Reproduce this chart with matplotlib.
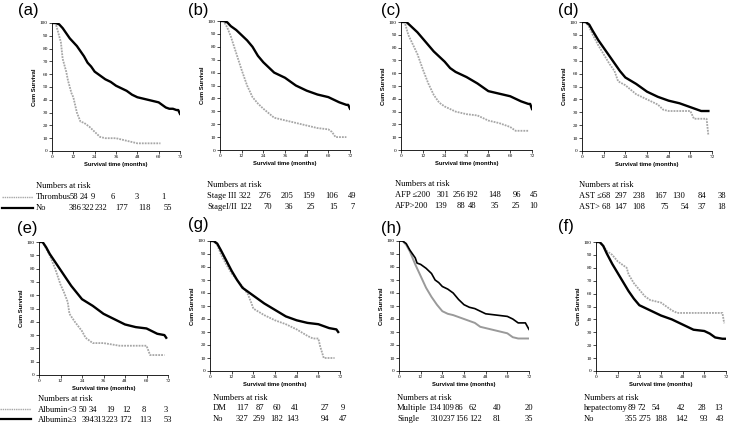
import matplotlib
matplotlib.use("Agg")
import matplotlib.pyplot as plt
from matplotlib.lines import Line2D

# ---------------- data ----------------
# (a) Portal vein thrombus
a_thr_t = [0, 2, 3, 5, 6, 8, 9, 11, 12, 14, 16, 18, 21, 24, 27, 30, 36, 42, 48, 54, 61]
a_thr_s = [100, 100, 95, 85, 72, 62, 55, 45, 42, 30, 23, 22, 19, 15, 11, 10, 10, 8, 6, 6, 6]
a_no_t = [0, 2, 4, 6, 8, 10, 12, 14, 16, 18, 20, 22, 24, 26, 28, 30, 33, 36, 39, 42, 45, 48, 51, 54, 57, 60, 62, 64, 66, 68, 70, 71, 72]
a_no_s = [100, 100, 99, 96, 92, 88, 85, 82, 78, 74, 69, 66, 62, 60, 58, 56, 54, 51, 49, 47, 44, 42, 41, 40, 39, 38, 36, 34, 33, 33, 32, 32, 29]

# (b) Stage
b_grey_t = [0, 2, 4, 6, 9, 12, 15, 18, 21, 24, 30, 36, 42, 48, 54, 60, 62, 64, 70]
b_grey_s = [100, 100, 95, 88, 75, 62, 50, 41, 36, 32, 25, 23, 21, 19, 17, 16, 14, 10, 10]
b_blk_t = [0, 2, 4, 6, 9, 12, 15, 18, 21, 24, 27, 30, 36, 42, 48, 54, 60, 63, 66, 70, 71, 72]
b_blk_s = [100, 100, 99, 96, 93, 89, 85, 80, 73, 68, 64, 60, 56, 50, 46, 43, 41, 39, 37, 35, 35, 32]

# (c) AFP
c_grey_t = [0, 2, 4, 6, 9, 12, 15, 18, 21, 24, 30, 36, 42, 48, 54, 60, 63, 70]
c_grey_s = [100, 100, 90, 84, 75, 63, 52, 43, 37, 34, 30, 28, 27, 23, 21, 18, 15, 15]
c_blk_t = [0, 3, 6, 9, 12, 15, 18, 21, 24, 27, 30, 36, 42, 48, 54, 60, 66, 70, 71, 72]
c_blk_s = [100, 100, 96, 92, 87, 82, 77, 73, 69, 64, 61, 57, 52, 46, 44, 42, 38, 36, 36, 32]

# (d) AST
d_grey_t = [0, 2, 4, 6, 9, 12, 15, 18, 20, 24, 30, 36, 42, 45, 48, 60, 62, 69, 70]
d_grey_s = [100, 100, 96, 90, 82, 75, 68, 62, 54, 51, 44, 40, 36, 32, 31, 31, 25, 25, 12]
d_blk_t = [0, 2, 4, 6, 9, 12, 15, 18, 21, 24, 30, 36, 42, 48, 54, 60, 66, 70]
d_blk_s = [100, 100, 98, 93, 86, 80, 74, 68, 62, 57, 52, 46, 42, 39, 37, 34, 31, 31]

# (e) Albumin
e_grey_t = [0, 2, 4, 6, 9, 12, 14, 16, 17, 20, 24, 26, 30, 36, 45, 60, 62, 70]
e_grey_s = [100, 100, 95, 90, 80, 68, 62, 55, 46, 40, 33, 28, 24, 24, 22, 22, 15, 15]
e_blk_t = [0, 2, 4, 6, 9, 12, 15, 18, 21, 24, 30, 36, 42, 48, 54, 60, 66, 70, 71]
e_blk_s = [100, 100, 96, 91, 85, 79, 73, 67, 62, 57, 52, 46, 42, 38, 36, 35, 31, 30, 28]

# (g) Diabetes
g_grey_t = [0, 2, 4, 6, 9, 12, 15, 18, 21, 23, 24, 30, 36, 42, 48, 54, 57, 60, 61, 63, 69]
g_grey_s = [100, 100, 97, 90, 82, 75, 70, 65, 59, 52, 48, 43, 39, 36, 32, 27, 25, 25, 19, 10, 10]
g_blk_t = [0, 2, 4, 6, 9, 12, 15, 18, 21, 24, 30, 36, 42, 48, 54, 60, 66, 70, 71]
g_blk_s = [100, 100, 98, 93, 85, 77, 70, 64, 61, 58, 52, 47, 42, 39, 37, 36, 33, 32, 30]

# (h) Tumour number
h_grey_t = [0, 2, 4, 6, 9, 12, 15, 18, 21, 24, 27, 30, 36, 42, 45, 48, 54, 60, 63, 66, 72]
h_grey_s = [100, 100, 97, 92, 82, 73, 64, 57, 51, 46, 44, 43, 40, 37, 34, 33, 31, 29, 26, 25, 25]
h_blk_t = [0, 2, 4, 6, 9, 10, 12, 15, 18, 20, 22, 24, 27, 30, 33, 36, 39, 42, 45, 48, 54, 60, 63, 66, 70, 72]
h_blk_s = [100, 100, 98, 93, 87, 83, 82, 79, 75, 70, 68, 65, 63, 60, 55, 51, 49, 48, 46, 44, 43, 42, 40, 37, 37, 32]

# (f) Hepatectomy
f_grey_t = [0, 2, 4, 6, 9, 12, 15, 17, 18, 21, 24, 27, 30, 36, 39, 42, 45, 48, 60, 70, 71]
f_grey_s = [100, 100, 97, 93, 90, 85, 82, 80, 75, 68, 63, 58, 55, 53, 50, 47, 45, 45, 45, 45, 37]
f_blk_t = [0, 2, 4, 6, 9, 12, 15, 18, 21, 24, 30, 36, 42, 48, 54, 60, 63, 66, 70, 72]
f_blk_s = [100, 100, 97, 91, 83, 76, 69, 62, 56, 51, 47, 43, 40, 36, 32, 31, 29, 26, 25, 25]

# numbers at risk
a_rows = ["Thrombus", "No"]
a_risk = [[58, 24, 9, 6, 3, 1], [386, 322, 232, 177, 118, 55]]
b_rows = ["Stage III", "StageI/II"]
b_risk = [[322, 276, 205, 159, 106, 49], [122, 70, 36, 25, 15, 7]]
c_rows = ["AFP \u2264200", "AFP>200"]
c_risk = [[301, 256, 192, 148, 96, 45], [139, 88, 48, 35, 25, 10]]
d_rows = ["AST \u226468", "AST> 68"]
d_risk = [[297, 238, 167, 130, 84, 38], [147, 108, 75, 54, 37, 18]]
e_rows = ["Albumin<3", "Albumin\u22653"]
e_risk = [[50, 34, 19, 12, 8, 3], [394, 313, 223, 172, 113, 53]]
g_rows = ["DM", "No"]
g_risk = [[117, 87, 60, 41, 27, 9], [327, 259, 182, 143, 94, 47]]
h_rows = ["Multiple", "Single"]
h_risk = [[134, 109, 86, 62, 40, 20], [310, 237, 156, 122, 81, 35]]
f_rows = ["hepatectomy", "No"]
f_risk = [[89, 72, 54, 42, 28, 13], [355, 275, 188, 142, 93, 43]]

x_ticks = [0, 12, 24, 36, 48, 60, 72]
y_ticks = [0, 10, 20, 30, 40, 50, 60, 70, 80, 90, 100]
x_label = "Survival time (months)"
y_label = "Cum Survival"

# ---------------- layout ----------------
W, H = 747, 425
fig = plt.figure(figsize=(W / 100, H / 100), dpi=100)
SERIF = ["Liberation Serif", "DejaVu Serif"]
SANS = ["Liberation Sans", "DejaVu Sans"]

def fx(x):
    return x / W

def fy(y):
    return 1 - y / H

GREY = "#a6a6a6"

def km_panel(box, grey, black, grey_style="dotted"):
    x0, y0, x1, y1 = box
    ax = fig.add_axes([fx(x0), fy(y1), (x1 - x0) / W, (y1 - y0) / H])
    gt, gs = grey
    bt, bs = black
    if grey_style == "dotted":
        ax.plot(gt, gs, color=GREY, lw=1.3, ls=(0, (1, 0.6)))
        ax.plot(bt, bs, color="black", lw=1.7)
    else:
        ax.plot(gt, gs, color="#9a9a9a", lw=1.4)
        ax.plot(bt, bs, color="black", lw=1.2)
    ax.set_xlim(0, 72)
    ax.set_ylim(0, 100)
    ax.set_xticks(x_ticks)
    ax.set_yticks(y_ticks)
    ax.tick_params(labelsize=3.8, length=2, width=0.5, pad=1)
    for lab in ax.get_xticklabels() + ax.get_yticklabels():
        lab.set_family(SERIF)
    for s in ("top", "right"):
        ax.spines[s].set_visible(False)
    for s in ("left", "bottom"):
        ax.spines[s].set_linewidth(0.6)
    ax.set_xlabel(x_label, fontsize=4.2, fontweight="bold", labelpad=2, family=SANS)
    ax.set_ylabel(y_label, fontsize=4.2, fontweight="bold", labelpad=2, family=SANS)
    return ax

FS = 6.1

def risk_table(x_title, y_title, rows, risk, cols, dy=11):
    fig.text(fx(x_title), fy(y_title), "Numbers at risk", fontsize=FS, family=SERIF,
             va="center", ha="left")
    for r, (name, vals) in enumerate(zip(rows, risk)):
        yy = y_title + dy * (r + 1)
        fig.text(fx(x_title), fy(yy), name, fontsize=FS, family=SERIF, va="center", ha="left")
        for v, cx in zip(vals, cols[r]):
            fig.text(fx(cx), fy(yy), str(v), fontsize=FS, family=SERIF, va="center", ha="center")

def label(x, y, s):
    fig.text(fx(x), fy(y), s, fontsize=12, family=SANS, va="center", ha="left")

# top row
km_panel((52, 23, 180, 151), (a_thr_t, a_thr_s), (a_no_t, a_no_s))
km_panel((220, 21, 350, 150), (b_grey_t, b_grey_s), (b_blk_t, b_blk_s))
km_panel((401, 22, 532, 150), (c_grey_t, c_grey_s), (c_blk_t, c_blk_s))
km_panel((582, 22, 712, 151), (d_grey_t, d_grey_s), (d_blk_t, d_blk_s))
# bottom row
km_panel((39, 242, 168, 375), (e_grey_t, e_grey_s), (e_blk_t, e_blk_s))
km_panel((210, 241, 340, 371), (g_grey_t, g_grey_s), (g_blk_t, g_blk_s))
km_panel((399, 241, 529, 371), (h_grey_t, h_grey_s), (h_blk_t, h_blk_s), grey_style="solid")
km_panel((596, 242, 726, 371), (f_grey_t, f_grey_s), (f_blk_t, f_blk_s))

# panel letters
label(18, 11, "(a)")
label(188, 11, "(b)")
label(381, 11, "(c)")
label(558, 11, "(d)")
label(17, 229, "(e)")
label(188, 224, "(g)")
label(381, 228, "(h)")
label(558, 227, "(f)")

# numbers at risk tables
risk_table(36, 186, a_rows, a_risk,
           [[74, 84, 93, 113, 137, 163], [75, 88, 101, 122, 145, 168]])
risk_table(207, 185, b_rows, b_risk,
           [[245, 265, 287, 309, 332, 352], [246, 268, 289, 311, 334, 353]])
risk_table(395, 184, c_rows, c_risk,
           [[443, 459, 472, 495, 517, 534], [441, 461, 472, 495, 516, 534]])
risk_table(579, 185, d_rows, d_risk,
           [[621, 639, 661, 679, 702, 722], [621, 639, 665, 685, 702, 722]])
risk_table(38, 399, e_rows, e_risk,
           [[83, 93, 111, 127, 144, 166], [88, 100, 112, 126, 145, 168]], dy=10.5)
risk_table(213, 398, g_rows, g_risk,
           [[242, 260, 277, 295, 325, 343], [242, 259, 277, 293, 325, 343]], dy=10.5)
risk_table(397, 398, h_rows, h_risk,
           [[435, 448, 459, 473, 497, 529], [437, 449, 462, 476, 497, 529]], dy=10.5)
risk_table(584, 398, f_rows, f_risk,
           [[632, 642, 656, 681, 702, 719], [631, 645, 661, 682, 704, 720]], dy=10.5)

# legend lines next to tables (a) and (e)
fig.add_artist(Line2D([fx(2), fx(33)], [fy(197), fy(197)], color=GREY, lw=1.0, ls=(0, (1, 0.6))))
fig.add_artist(Line2D([fx(2), fx(33)], [fy(208), fy(208)], color="black", lw=1.6))
fig.add_artist(Line2D([fx(0), fx(31)], [fy(409), fy(409)], color=GREY, lw=1.0, ls=(0, (1, 0.6))))
fig.add_artist(Line2D([fx(0), fx(31)], [fy(419), fy(419)], color="black", lw=1.6))

fig.savefig("out.png", dpi=100)
